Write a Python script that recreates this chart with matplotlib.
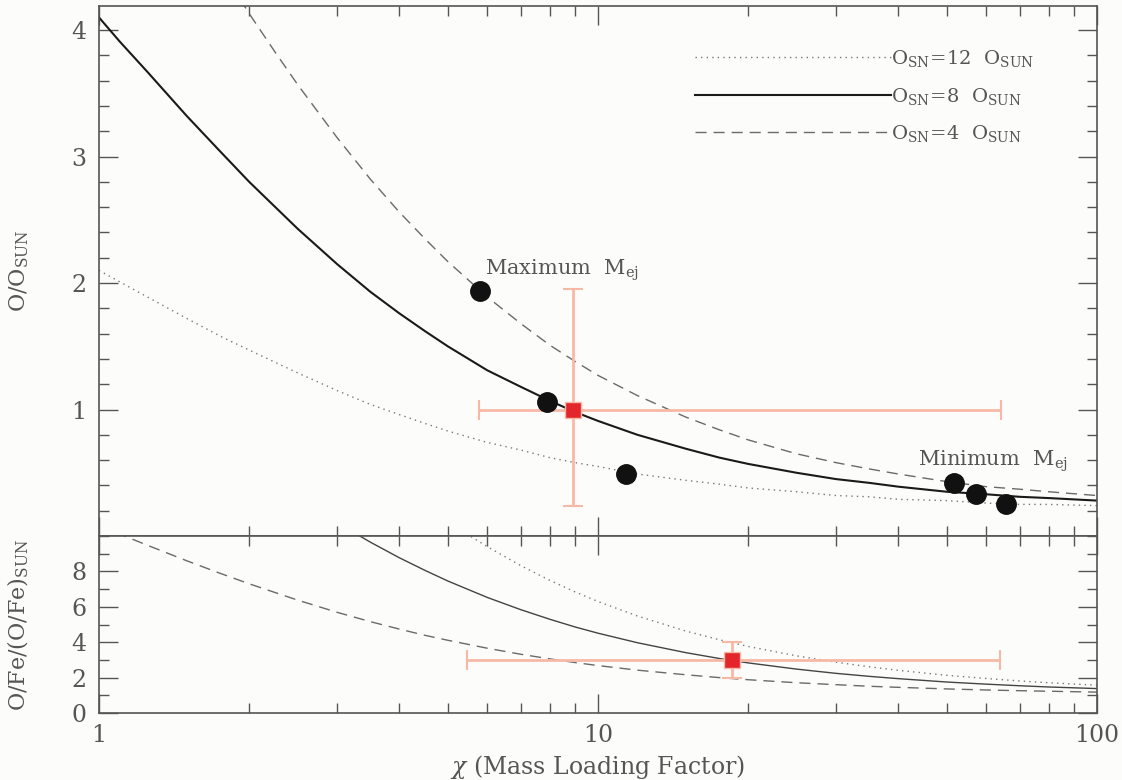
import matplotlib
matplotlib.use("Agg")
import matplotlib.pyplot as plt
from matplotlib.ticker import MultipleLocator, LogLocator, NullFormatter, FixedLocator

plt.rcParams['font.family'] = ['DejaVu Serif']
plt.rcParams['mathtext.fontset'] = 'dejavuserif'

# --- top panel: O/O_sun vs chi ---
chi_top = [1, 1.1, 1.25, 1.5, 1.75, 2, 2.5, 3, 3.5, 4, 4.5, 5, 6, 7, 8, 9, 10, 12, 15, 17.5,
           20, 25, 30, 35, 40, 50, 60, 70, 80, 100]
o_sn8 = [4.10, 3.91, 3.67, 3.32, 3.04, 2.80, 2.43, 2.15, 1.93, 1.76, 1.62, 1.50, 1.31, 1.18,
         1.07, 0.98, 0.91, 0.80, 0.69, 0.62, 0.57, 0.50, 0.45, 0.42, 0.39, 0.35, 0.33, 0.31,
         0.30, 0.28]
o_sn4 = [2.10, 2.01, 1.89, 1.72, 1.58, 1.47, 1.29, 1.15, 1.04, 0.96, 0.89, 0.83, 0.74, 0.68,
         0.62, 0.58, 0.55, 0.49, 0.44, 0.41, 0.38, 0.35, 0.32, 0.31, 0.29, 0.28, 0.26, 0.25,
         0.25, 0.24]
chi_dash = [1.9, 2, 2.25, 2.5, 2.75, 3, 3.5, 4, 4.5, 5, 6, 7, 8, 9, 10, 12, 15, 17.5, 20, 25,
            30, 35, 40, 50, 60, 70, 80, 100]
o_sn12 = [4.27, 4.13, 3.83, 3.57, 3.35, 3.15, 2.82, 2.56, 2.35, 2.17, 1.89, 1.68, 1.51, 1.38,
          1.27, 1.11, 0.94, 0.84, 0.76, 0.65, 0.58, 0.53, 0.49, 0.43, 0.39, 0.37, 0.35, 0.32]

# galaxies (black dots)
gal_chi = [5.8, 7.9, 11.4, 51.7, 57.2, 65.7]
gal_o = [1.94, 1.06, 0.49, 0.42, 0.33, 0.25]

# observed value with error bars
obs_chi, obs_o = 8.9, 1.0
obs_chi_lo, obs_chi_hi = 5.78, 64.2
obs_o_lo, obs_o_hi = 0.24, 1.95

# --- bottom panel: O/Fe ratio ---
chi_b_dash = [1, 1.1, 1.25, 1.5, 1.75, 2, 2.5, 3, 3.5, 4, 4.5, 5, 6, 7, 8, 9, 10, 12, 15,
              17.5, 20, 25, 30, 35, 40, 50, 60, 70, 80, 100]
ofe_4 = [10.58, 10.11, 9.48, 8.60, 7.89, 7.30, 6.38, 5.69, 5.16, 4.74, 4.39, 4.11, 3.66, 3.32,
         3.06, 2.85, 2.68, 2.42, 2.16, 2.00, 1.88, 1.71, 1.60, 1.51, 1.45, 1.36, 1.30, 1.26,
         1.23, 1.18]
chi_b_solid = [3, 3.5, 4, 4.5, 5, 6, 7, 8, 9, 10, 12, 15, 17.5, 20, 25, 30, 35, 40, 50, 60,
               70, 80, 100]
ofe_8 = [10.75, 9.65, 8.77, 8.06, 7.46, 6.53, 5.84, 5.30, 4.86, 4.51, 3.97, 3.41, 3.08, 2.83,
         2.48, 2.24, 2.07, 1.94, 1.75, 1.63, 1.54, 1.47, 1.38]
chi_b_dot = [5, 5.5, 6, 7, 8, 9, 10, 12, 15, 17.5, 20, 25, 30, 35, 40, 50, 60, 70, 80, 100]
ofe_12 = [10.83, 10.06, 9.40, 8.33, 7.50, 6.84, 6.30, 5.48, 4.63, 4.14, 3.76, 3.23, 2.87, 2.61,
          2.41, 2.13, 1.95, 1.81, 1.71, 1.57]

obs2_chi, obs2_ofe = 18.6, 3.0
obs2_chi_lo, obs2_chi_hi = 5.46, 63.9
obs2_ofe_lo, obs2_ofe_hi = 2.0, 4.0

grey = '#555555'
bg = '#fcfcfa'
red = '#e3262b'
salmon = '#f7b9a6'

fig = plt.figure(figsize=(11.22, 7.8), dpi=100, facecolor=bg)
ax1 = fig.add_axes([0.0882, 0.3128, 0.8895, 0.6795], facecolor=bg)
ax2 = fig.add_axes([0.0882, 0.0859, 0.8895, 0.2269], facecolor=bg, sharex=ax1)

ax1.plot(chi_top, o_sn4, ls=(0, (1, 3)), color='#777777', lw=1.0, label=r'$\mathrm{O_{SN}\!=\!12\ \ O_{SUN}}$')
ax1.plot(chi_top, o_sn8, ls='-', color='#1a1a1a', lw=1.5, label=r'$\mathrm{O_{SN}\!=\!8\ \ O_{SUN}}$')
ax1.plot(chi_dash, o_sn12, ls=(0, (8, 5)), color='#6a6a6a', lw=1.0, label=r'$\mathrm{O_{SN}\!=\!4\ \ O_{SUN}}$')

ax1.errorbar([obs_chi], [obs_o],
             xerr=[[obs_chi - obs_chi_lo], [obs_chi_hi - obs_chi]],
             yerr=[[obs_o - obs_o_lo], [obs_o_hi - obs_o]],
             fmt='none', ecolor=salmon, elinewidth=2, capsize=7, capthick=1.5, zorder=3)
ax1.plot(gal_chi, gal_o, 'o', color='#111111', ms=14, zorder=4)
ax1.plot([obs_chi], [obs_o], 's', color=red, ms=12, mec=salmon, mew=1, zorder=5)

ax1.text(5.94, 2.10, r'Maximum  $\mathrm{M_{ej}}$', color=grey, fontsize=15, va='center')
ax1.text(43.8, 0.59, r'Minimum  $\mathrm{M_{ej}}$', color=grey, fontsize=15, va='center')

leg = ax1.legend(loc='upper right', frameon=False, fontsize=14, handlelength=10.1,
                 handletextpad=0.0, labelspacing=0.85, bbox_to_anchor=(0.945, 0.935),
                 labelcolor=grey, borderaxespad=0)

ax2.plot(chi_b_dot, ofe_12, ls=(0, (1, 3)), color='#777777', lw=1.0)
ax2.plot(chi_b_solid, ofe_8, ls='-', color='#444444', lw=1.0)
ax2.plot(chi_b_dash, ofe_4, ls=(0, (8, 5)), color='#6a6a6a', lw=1.0)
ax2.errorbar([obs2_chi], [obs2_ofe],
             xerr=[[obs2_chi - obs2_chi_lo], [obs2_chi_hi - obs2_chi]],
             yerr=[[obs2_ofe - obs2_ofe_lo], [obs2_ofe_hi - obs2_ofe]],
             fmt='none', ecolor=salmon, elinewidth=2, capsize=7, capthick=1.5, zorder=3)
ax2.plot([obs2_chi], [obs2_ofe], 's', color=red, ms=12, mec=salmon, mew=1, zorder=5)

ax1.set_xscale('log')
ax1.set_xlim(1, 100)
ax1.set_ylim(0, 4.19)
ax2.set_ylim(0, 10)

ax1.yaxis.set_major_locator(FixedLocator([1, 2, 3, 4]))
ax1.yaxis.set_minor_locator(MultipleLocator(0.2))
ax2.yaxis.set_major_locator(FixedLocator([0, 2, 4, 6, 8]))
ax2.yaxis.set_minor_locator(MultipleLocator(1))
ax2.xaxis.set_major_locator(LogLocator(base=10))
ax2.xaxis.set_minor_locator(LogLocator(base=10, subs=range(2, 10)))
ax2.xaxis.set_minor_formatter(NullFormatter())
ax2.set_xticks([1, 10, 100])
ax2.set_xticklabels(['1', '10', '100'])
plt.setp(ax1.get_xticklabels(), visible=False)

for ax in (ax1, ax2):
    for s in ax.spines.values():
        s.set_color(grey)
        s.set_linewidth(1.2)
    ax.tick_params(which='both', direction='in', top=True, right=True, color=grey,
                   labelcolor=grey, labelsize=17)
    ax.tick_params(which='major', length=14, width=1)
    ax.tick_params(which='minor', length=7, width=1)
    ax.tick_params(axis='x', pad=8)
    ax.tick_params(axis='y', pad=9)

ax1.set_ylabel(r'$\mathrm{O/O_{SUN}}$', color=grey, fontsize=16)
ax2.set_ylabel(r'$\mathrm{O/Fe/(O/Fe)_{SUN}}$', color=grey, fontsize=16)
ax2.set_xlabel(r'$\chi$ (Mass Loading Factor)', color=grey, fontsize=17, labelpad=4)
ax1.yaxis.set_label_coords(-0.068, 0.5)
ax2.yaxis.set_label_coords(-0.068, 0.5)

fig.savefig('out.png', dpi=100, facecolor=bg)
